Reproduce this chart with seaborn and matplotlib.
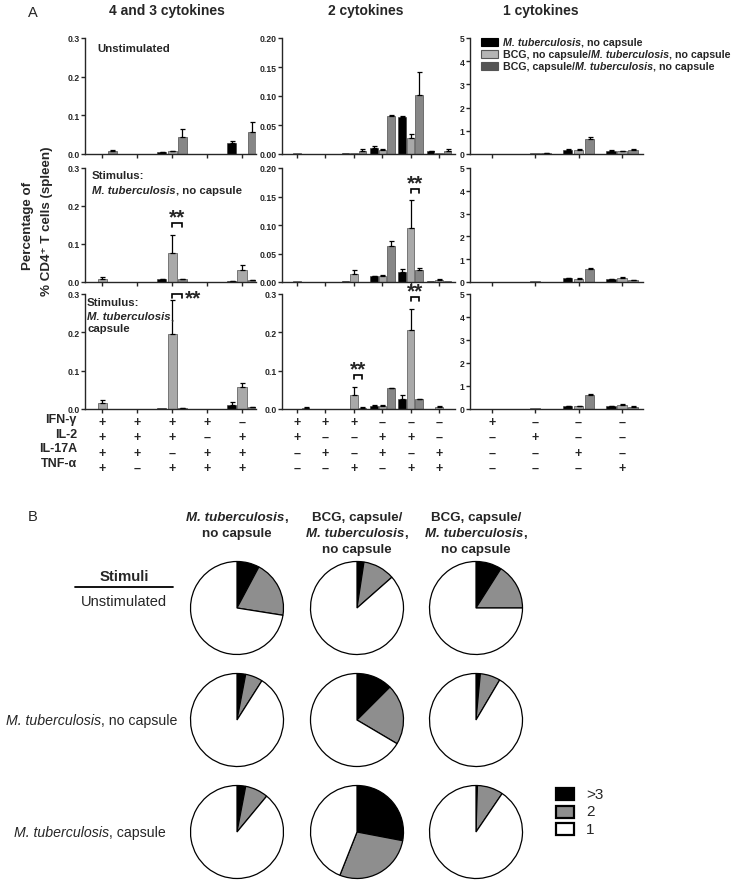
import numpy as np
import pandas as pd
import matplotlib
matplotlib.use("Agg")
import matplotlib.pyplot as plt
import matplotlib.transforms as mtransforms
from matplotlib.patches import Rectangle
from matplotlib.lines import Line2D
import seaborn as sns

# ---------------- data ----------------
cytokines = ['IFN-γ', 'IL-2', 'IL-17A', 'TNF-α']
# sign pattern per group: IFN-γ, IL-2, IL-17A, TNF-α
combos_43 = ['++++', '+++-', '++-+', '+-++', '-+++']
combos_2 = ['++--', '+-+-', '+--+', '-++-', '-+-+', '--++']
combos_1 = ['+---', '-+--', '--+-', '---+']

# "_" marks italic text
strains = ['_M. tuberculosis_, no capsule',
           'BCG, no capsule/_M. tuberculosis_, no capsule',
           'BCG, capsule/_M. tuberculosis_, no capsule']
stimuli = ['Unstimulated', '_M. tuberculosis_, no capsule', '_M. tuberculosis_, capsule']

# mean % of CD4+ T cells, one row per strain (order as in `strains`)
unstim_43 = [[0.0, 0.0, 0.004, 0.0, 0.028],
             [0.0, 0.0, 0.007, 0.0, 0.001],
             [0.008, 0.0, 0.045, 0.0, 0.056]]
unstim_43_err = [[0, 0, 0.001, 0, 0.005],
                 [0, 0, 0.002, 0, 0],
                 [0.002, 0, 0.02, 0, 0.027]]
nocap_43 = [[0.0, 0.0, 0.007, 0.0, 0.002],
            [0.009, 0.0, 0.077, 0.0, 0.031],
            [0.0, 0.0, 0.007, 0.0, 0.004]]
nocap_43_err = [[0, 0, 0.001, 0, 0.001],
                [0.005, 0, 0.048, 0, 0.015],
                [0, 0, 0.001, 0, 0.002]]
cap_43 = [[0.0, 0.0, 0.002, 0.0, 0.011],
          [0.016, 0.0, 0.195, 0.0, 0.057],
          [0.0, 0.0, 0.002, 0.0, 0.004]]
cap_43_err = [[0, 0, 0, 0, 0.008],
              [0.008, 0, 0.09, 0, 0.012],
              [0, 0, 0.001, 0, 0.002]]

unstim_2 = [[0.0, 0.0, 0.001, 0.010, 0.063, 0.005],
            [0.001, 0.0, 0.001, 0.0075, 0.028, 0.001],
            [0.0, 0.0, 0.006, 0.066, 0.102, 0.005]]
unstim_2_err = [[0, 0, 0, 0.003, 0.003, 0.001],
                [0, 0, 0, 0.001, 0.007, 0],
                [0, 0, 0.003, 0.002, 0.040, 0.003]]
nocap_2 = [[0.0, 0.0, 0.002, 0.010, 0.018, 0.001],
           [0.001, 0.0, 0.0145, 0.011, 0.094, 0.004],
           [0.0, 0.0, 0.0, 0.063, 0.021, 0.002]]
nocap_2_err = [[0, 0, 0, 0.001, 0.005, 0],
               [0, 0, 0.006, 0.001, 0.049, 0.002],
               [0, 0, 0, 0.009, 0.003, 0]]
cap_2 = [[0.0, 0.0, 0.001, 0.0085, 0.025, 0.0],
         [0.001, 0.0, 0.0375, 0.008, 0.205, 0.005],
         [0.003, 0.0, 0.003, 0.054, 0.026, 0.0]]
cap_2_err = [[0, 0, 0, 0.001, 0.012, 0],
             [0, 0, 0.02, 0.002, 0.057, 0.002],
             [0.001, 0, 0.001, 0.002, 0.001, 0]]

unstim_1 = [[0.02, 0.02, 0.19, 0.15],
            [0.02, 0.03, 0.18, 0.12],
            [0.01, 0.03, 0.65, 0.18]]
unstim_1_err = [[0, 0, 0.04, 0.02],
                [0, 0, 0.03, 0.02],
                [0, 0.01, 0.10, 0.05]]
nocap_1 = [[0.01, 0.02, 0.17, 0.11],
           [0.01, 0.03, 0.15, 0.17],
           [0.01, 0.02, 0.59, 0.09]]
nocap_1_err = [[0, 0, 0.02, 0.01],
               [0, 0, 0.03, 0.03],
               [0, 0, 0.03, 0.01]]
cap_1 = [[0.01, 0.02, 0.13, 0.14],
         [0.01, 0.03, 0.12, 0.19],
         [0.01, 0.02, 0.62, 0.10]]
cap_1_err = [[0, 0, 0.01, 0.01],
             [0, 0, 0.02, 0.03],
             [0, 0, 0.03, 0.01]]

# significance (row, column, group index, where the stars go)
sig_marks = [(1, 0, 2, 'above'), (2, 0, 2, 'right'),
             (1, 1, 4, 'above'), (2, 1, 4, 'above'), (2, 1, 2, 'above')]

# pie fractions (%) rows = stimuli, cols = pie columns
pie_gt3 = [[7.8, 2.4, 9.0], [3.0, 12.5, 1.5], [3.0, 28.0, 0.5]]
pie_two = [[19.7, 11.1, 16.0], [6.0, 21.0, 7.0], [8.0, 28.0, 9.0]]
pie_one = [[72.5, 86.5, 75.0], [91.0, 66.5, 91.5], [89.0, 44.0, 90.5]]
pie_headers = [['_M. tuberculosis_,', 'no capsule'],
               ['BCG, capsule/', '_M. tuberculosis_,', 'no capsule'],
               ['BCG, capsule/', '_M. tuberculosis_,', 'no capsule']]
pie_classes = ['>3', '2', '1']

# ---------------- style ----------------
sns.set_style('ticks')
plt.rcParams['font.family'] = ['Liberation Sans', 'DejaVu Sans']
plt.rcParams['axes.linewidth'] = 1.0

bar_colors = ['#000000', '#a9a9a9', '#878787']
legend_colors = ['#000000', '#b4b4b4', '#555555']
pie_colors = ['#000000', '#8e8e8e', '#ffffff']

W, H = 736, 887
fig = plt.figure(figsize=(W / 100, H / 100), dpi=100)
renderer = fig.canvas.get_renderer()


def px_rect(x0, y0, x1, y1):
    return [x0 / W, 1 - y1 / H, (x1 - x0) / W, (y1 - y0) / H]


def rich_text(x, y, s, ha='left', size=8, weight='bold'):
    # text with "_italic_" parts, baseline at pixel (x, y)
    parts = s.split('_')
    objs = []
    for k, p in enumerate(parts):
        if p == '':
            continue
        objs.append(fig.text(0, 0, p, fontsize=size, fontweight=weight,
                             fontstyle='italic' if k % 2 else 'normal',
                             va='baseline', ha='left'))
    widths = [o.get_window_extent(renderer).width for o in objs]
    x0 = x - {'left': 0, 'center': sum(widths) / 2, 'right': sum(widths)}[ha]
    for o, w in zip(objs, widths):
        o.set_position((x0 / W, 1 - y / H))
        x0 += w


panel_data = {
    (0, 0): (unstim_43, unstim_43_err), (1, 0): (nocap_43, nocap_43_err), (2, 0): (cap_43, cap_43_err),
    (0, 1): (unstim_2, unstim_2_err), (1, 1): (nocap_2, nocap_2_err), (2, 1): (cap_2, cap_2_err),
    (0, 2): (unstim_1, unstim_1_err), (1, 2): (nocap_1, nocap_1_err), (2, 2): (cap_1, cap_1_err),
}
combo_sets = [combos_43, combos_2, combos_1]
strain_names = [s.replace('_', '') for s in strains]

col_x = [(85, 256), (282, 455), (470, 643)]
row_y = [(39, 155), (169, 283), (295, 410)]
x_lims = [(-0.49, 4.4), (-0.53, 5.56), (-0.51, 3.49)]
bar_width = [0.88, 0.9, 0.76]
y_max = [[0.3, 0.2, 5], [0.3, 0.2, 5], [0.3, 0.3, 5]]

axes = {}
for r in range(3):
    for c in range(3):
        ax = fig.add_axes(px_rect(col_x[c][0], row_y[r][0], col_x[c][1], row_y[r][1]))
        means, errs = panel_data[(r, c)]
        combos = combo_sets[c]
        df = pd.DataFrame({
            'combo': [cb for s in strain_names for cb in combos],
            'strain': [s for s in strain_names for cb in combos],
            'value': [v for row in means for v in row],
        })
        sns.barplot(data=df, x='combo', y='value', hue='strain', order=combos,
                    hue_order=strain_names, palette=bar_colors, saturation=1,
                    width=bar_width[c], gap=0.12, errorbar=None, legend=False,
                    edgecolor='#303030', linewidth=0.4, ax=ax)
        # upward-only error bars on top of each bar
        for h, cont in enumerate(ax.containers[:3]):
            xs = np.array([b.get_x() + b.get_width() / 2 for b in cont])
            ys = np.array([b.get_height() for b in cont])
            e = np.asarray(errs[h], dtype=float)
            keep = e > 0
            if keep.any():
                ax.errorbar(xs[keep], ys[keep], yerr=[np.zeros(keep.sum()), e[keep]],
                            fmt='none', ecolor='black', elinewidth=0.9,
                            capsize=1.8, capthick=0.9)
        ymax = y_max[r][c]
        ax.set_ylim(0, ymax)
        ax.set_xlim(*x_lims[c])
        if ymax == 5:
            ax.set_yticks(np.arange(0, 6, 1))
            ax.yaxis.set_major_formatter(matplotlib.ticker.FormatStrFormatter('%d'))
        elif ymax == 0.2:
            ax.set_yticks(np.arange(0, 0.201, 0.05))
            ax.yaxis.set_major_formatter(matplotlib.ticker.FormatStrFormatter('%.2f'))
        else:
            ax.set_yticks(np.arange(0, 0.301, 0.1))
            ax.yaxis.set_major_formatter(matplotlib.ticker.FormatStrFormatter('%.1f'))
        ax.set_xticks(range(len(combos)))
        ax.set_xticklabels([])
        ax.set_xlabel('')
        ax.set_ylabel('')
        sns.despine(ax=ax)
        ax.tick_params(direction='out', length=3, width=1.0, labelsize=6.2, pad=1)
        for lab in ax.get_yticklabels():
            lab.set_fontweight('bold')
        ax.patch.set_alpha(0)
        axes[(r, c)] = ax

# significance brackets
for r, c, g, where in sig_marks:
    ax = axes[(r, c)]
    means, errs = panel_data[(r, c)]
    b1, b2 = ax.containers[1][g], ax.containers[2][g]
    x1 = b1.get_x() + b1.get_width() / 2
    x2 = b2.get_x() + b2.get_width() / 2
    ymax = y_max[r][c]
    top = max(means[1][g] + errs[1][g], means[2][g] + errs[2][g])
    yb = top + (0.1 if where == 'above' else 0.05) * ymax
    drop = 0.035 * ymax
    ax.plot([x1, x1, x2, x2], [yb - drop, yb, yb, yb - drop], color='black',
            lw=1.2, clip_on=False, solid_joinstyle='miter')
    if where == 'above':
        ax.annotate('**', xy=((x1 + x2) / 2, yb), xytext=(0, 0.5),
                    textcoords='offset points', ha='center', va='baseline',
                    fontsize=15, fontweight='bold', annotation_clip=False)
    else:
        ax.annotate('**', xy=(x2, yb), xytext=(2, -7),
                    textcoords='offset points', ha='left', va='baseline',
                    fontsize=15, fontweight='bold', annotation_clip=False)

# cytokine sign table under the bottom row
sign_y = [423, 438, 454, 469]
label_y = [420, 435, 449, 464]
for k, name in enumerate(cytokines):
    fig.text(77 / W, 1 - label_y[k] / H, name, ha='right', va='center',
             fontsize=9, fontweight='bold')
for c in range(3):
    ax = axes[(2, c)]
    trans = mtransforms.blended_transform_factory(ax.transData, fig.transFigure)
    for i, cb in enumerate(combo_sets[c]):
        for k, sym in enumerate(cb):
            ax.text(i, 1 - sign_y[k] / H, '+' if sym == '+' else '–', transform=trans,
                    ha='center', va='center', fontsize=9, fontweight='bold')

# titles and labels for panel A
fig.text(33 / W, 1 - 13 / H, 'A', fontsize=10.5, ha='center', va='center')
for cx, title in zip([167, 366, 541], ['4 and 3 cytokines', '2 cytokines', '1 cytokines']):
    fig.text(cx / W, 1 - 11 / H, title, fontsize=10, fontweight='bold', ha='center', va='center')

fig.text(28 / W, 1 - 226 / H, 'Percentage of', rotation=90, ha='center', va='center',
         fontsize=9.6, fontweight='bold')
fig.text(47 / W, 1 - 221 / H, '% CD4⁺ T cells (spleen)', rotation=90, ha='center',
         va='center', fontsize=9.6, fontweight='bold')

rich_text(97, 52, 'Unstimulated', size=8.2)
rich_text(92, 179, 'Stimulus:', size=8.2)
rich_text(92, 194, '_M. tuberculosis_, no capsule', size=8.2)
rich_text(87, 306, 'Stimulus:', size=8.2)
rich_text(87, 320, '_M. tuberculosis_,', size=8.2)
rich_text(87, 332, 'capsule', size=8.2)

# legend of panel A
for k, (s, col) in enumerate(zip(strains, legend_colors)):
    yc = 43 + 12 * k
    fig.patches.append(Rectangle((481 / W, 1 - (yc + 3.8) / H), 17 / W, 7.6 / H,
                                 transform=fig.transFigure, facecolor=col,
                                 edgecolor='#555555' if k == 1 else col, linewidth=0.8))
    rich_text(503, yc + 3, s, size=7.7)

# ---------------- panel B ----------------
fig.text(33 / W, 1 - 517 / H, 'B', fontsize=10.5, ha='center', va='center')
pie_cx = [237, 357, 476]
pie_cy = [609, 721, 833]
rad = 46.5
for c, lines in enumerate(pie_headers):
    for j, line in enumerate(lines):
        rich_text(pie_cx[c], 521 + 16 * j, line, ha='center', size=9.6)

rich_text(124, 581, 'Stimuli', ha='center', size=10.8)
fig.lines.append(Line2D([75 / W, 173 / W], [1 - 588 / H, 1 - 588 / H],
                        transform=fig.transFigure, color='black', lw=1.3))
rich_text(124, 606, stimuli[0], ha='center', size=10.5, weight='normal')
rich_text(92, 725, stimuli[1], ha='center', size=10.2, weight='normal')
rich_text(90, 837, stimuli[2], ha='center', size=10.2, weight='normal')

pad = 1.03
for r in range(3):
    for c in range(3):
        cx, cy = pie_cx[c], pie_cy[r]
        pax = fig.add_axes(px_rect(cx - rad * pad, cy - rad * pad, cx + rad * pad, cy + rad * pad))
        pax.pie([pie_gt3[r][c], pie_two[r][c], pie_one[r][c]], colors=pie_colors,
                startangle=90, counterclock=False,
                wedgeprops=dict(edgecolor='black', linewidth=0.9))
        pax.set_xlim(-pad, pad)
        pax.set_ylim(-pad, pad)
        pax.set_aspect('equal')
        pax.axis('off')

for k, (lab, col) in enumerate(zip(pie_classes, pie_colors)):
    yc = 795 + 17.5 * k
    fig.patches.append(Rectangle((556 / W, 1 - (yc + 6) / H), 18 / W, 12 / H,
                                 transform=fig.transFigure, facecolor=col,
                                 edgecolor='black', linewidth=1.6))
    fig.text(586 / W, 1 - yc / H, lab, fontsize=11, ha='left', va='center')

fig.savefig('out.png', dpi=100)
